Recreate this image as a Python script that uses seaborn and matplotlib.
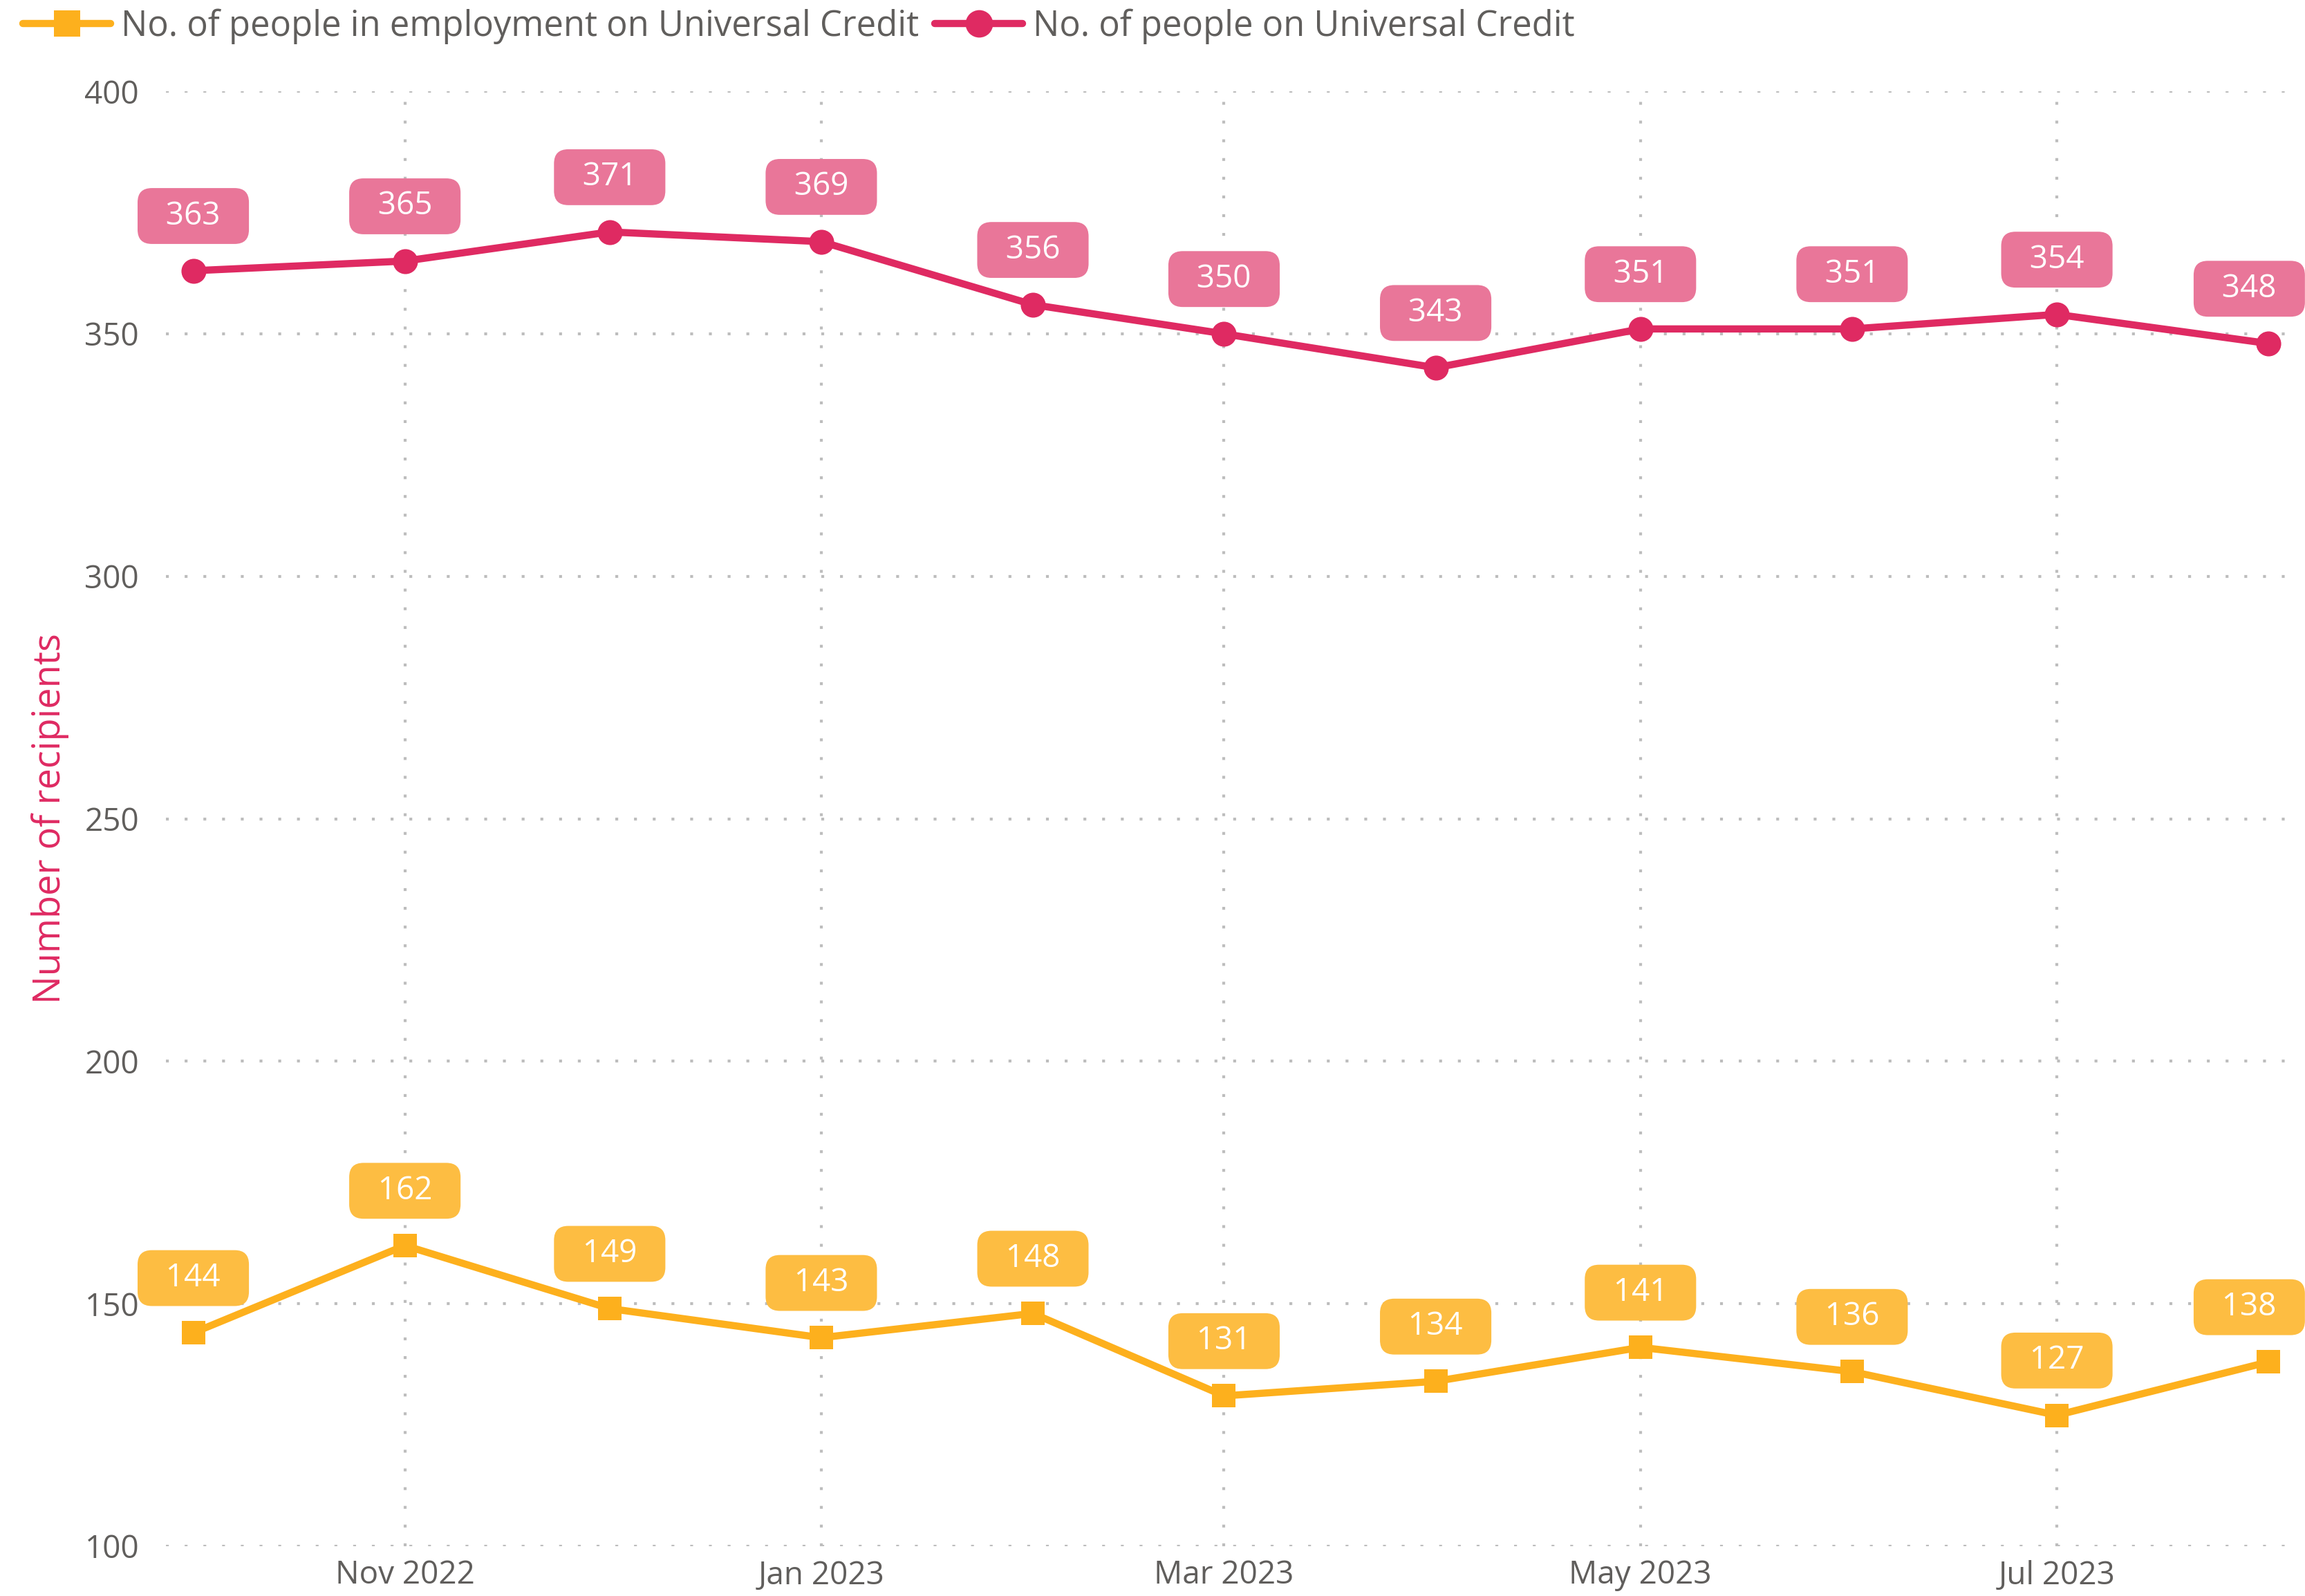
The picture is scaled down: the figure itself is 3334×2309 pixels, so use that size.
import pandas as pd
import numpy as np
import matplotlib.pyplot as plt
import matplotlib.dates as mdates
import seaborn as sns

months = pd.date_range('2022-10-01', '2023-08-01', freq='MS')
on_uc = [363, 365, 371, 369, 356, 350, 343, 351, 351, 354, 348]
in_work_uc = [144, 162, 149, 143, 148, 131, 134, 141, 136, 127, 138]
name_work = 'No. of people in employment on Universal Credit'
name_all = 'No. of people on Universal Credit'
y_ticks = [100, 150, 200, 250, 300, 350, 400]

red = '#DF2A62'
red_box = '#E97699'
orange = '#FDB01D'
orange_box = '#FDBD42'
grey_txt = '#605E5C'

sns.set_theme(style='white')
plt.rcParams['font.family'] = ['Open Sans', 'DejaVu Sans']

fig = plt.figure(figsize=(33.34, 23.09), dpi=100)
ax = fig.add_axes([0.072, 0.0312, 0.924, 0.9116])

sns.lineplot(x=months, y=in_work_uc, ax=ax, color=orange, marker='s', markersize=25,
             markeredgewidth=0, linewidth=7.5, label=name_work)
sns.lineplot(x=months, y=on_uc, ax=ax, color=red, marker='o', markersize=26,
             markeredgewidth=0, linewidth=7.5, label=name_all)

ax.set_xlim(pd.Timestamp('2022-09-27'), pd.Timestamp('2023-08-05'))
ax.set_ylim(100, 400)
ax.set_yticks(y_ticks)
ax.xaxis.set_major_locator(mdates.MonthLocator(bymonth=[1, 3, 5, 7, 11]))
ax.xaxis.set_major_formatter(mdates.DateFormatter('%b %Y'))

# dotted grid, no spines
ax.grid(True, color='#BDBDBD', linestyle=(0, (1, 5.5)), linewidth=3)
for s in ax.spines.values():
    s.set_visible(False)
ax.tick_params(axis='both', length=0, labelsize=33, labelcolor=grey_txt)
ax.tick_params(axis='y', pad=28)
ax.tick_params(axis='x', pad=14)
ax.set_xlabel('')
ax.set_ylabel('Number of recipients', color=red, fontsize=39, fontweight='medium')
ax.yaxis.set_label_coords(-0.0455, 0.5)

def add_labels(vals, box):
    for i, (x, v) in enumerate(zip(months, vals)):
        dx = -20 if i == len(vals) - 1 else 0
        ax.annotate(f'  {v}  ', (x, v), xytext=(dx, 57), textcoords='offset points',
                    ha='center', va='center', color='white', fontsize=33,
                    bbox=dict(boxstyle='round,pad=0.38,rounding_size=0.45', fc=box, ec='none'),
                    annotation_clip=False)

add_labels(on_uc, red_box)
add_labels(in_work_uc, orange_box)

handles, labels = ax.get_legend_handles_labels()
ax.get_legend().remove()
fig.legend(handles, labels, loc='center left', bbox_to_anchor=(0.010, 0.9835), ncol=2,
           frameon=False, fontsize=36.5, handlelength=2.5, handletextpad=0.3,
           columnspacing=0.45, borderpad=0, borderaxespad=0, markerscale=1.1,
           labelcolor=grey_txt)

fig.savefig('out.png', dpi=100)
